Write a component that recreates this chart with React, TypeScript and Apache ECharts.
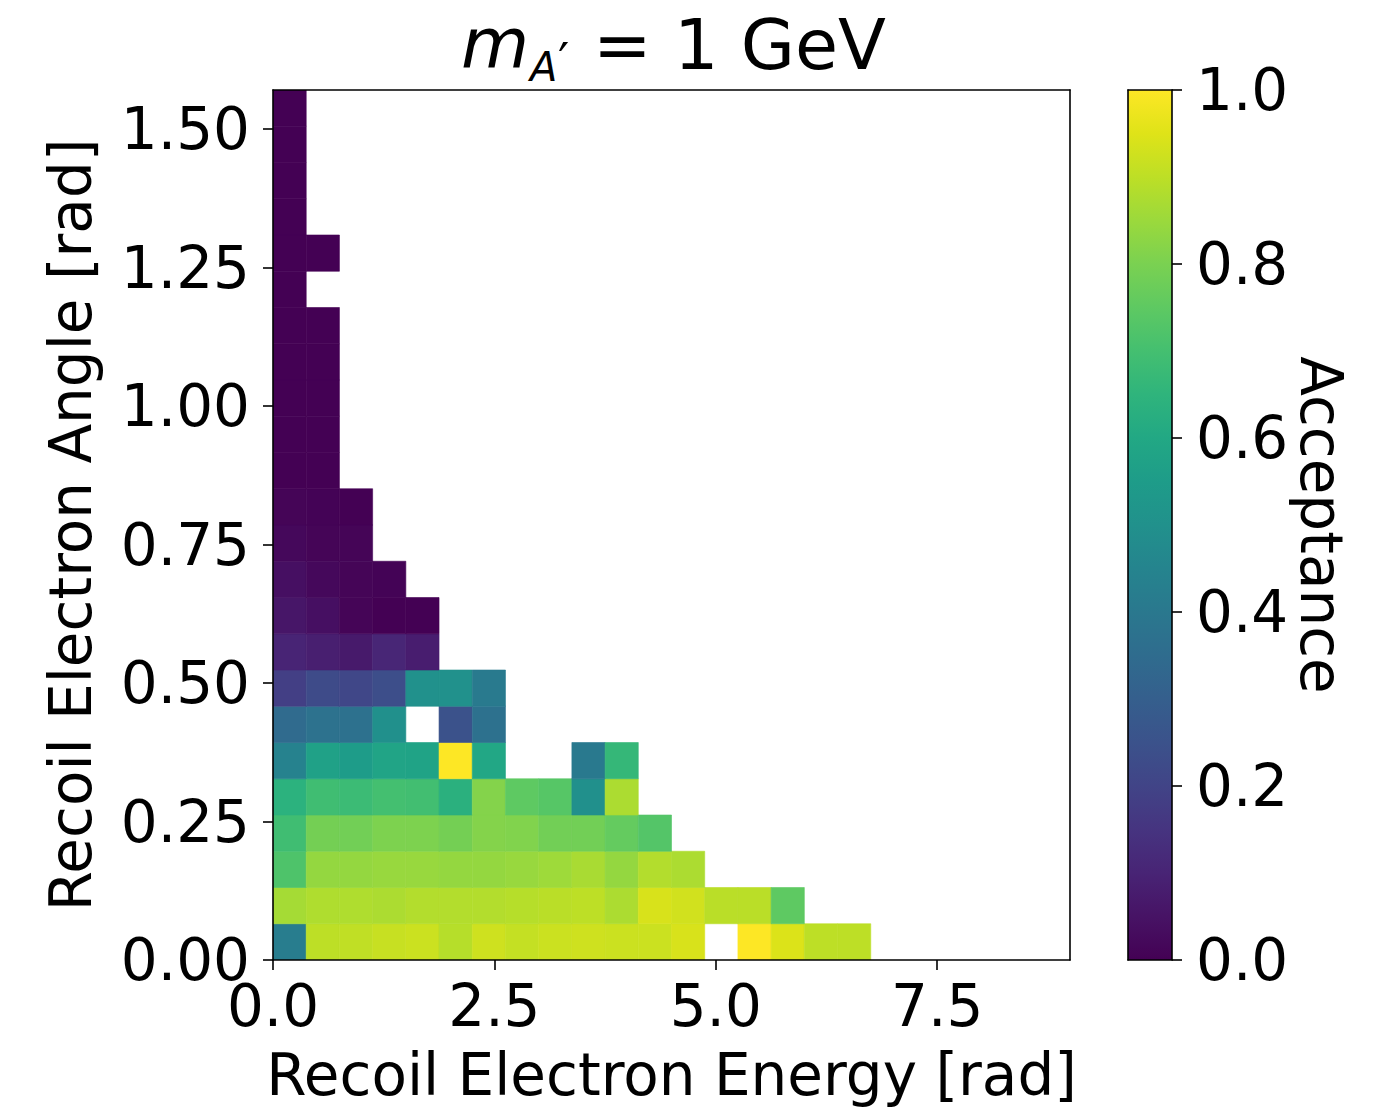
import React, { useEffect, useRef } from "react";
import * as echarts from "echarts";

// Binning (energy on x, angle on y)
const X_MIN = 0;
const X_MAX = 9;
const NX = 24;
const Y_MIN = 0;
const Y_MAX = Math.PI / 2;
const NY = 24;

const X_TICKS = [0, 2.5, 5, 7.5];
const Y_TICKS = [0, 0.25, 0.5, 0.75, 1.0, 1.25, 1.5];
const CB_TICKS = [0, 0.2, 0.4, 0.6, 0.8, 1.0];

const TITLE_M = "m";
const TITLE_SUB = "A";
const TITLE_PRIME = "\u2032";
const TITLE_REST = "= 1 GeV";
const X_NAME = "Recoil Electron Energy [rad]";
const Y_NAME = "Recoil Electron Angle [rad]";
const CB_NAME = "Acceptance";

// Acceptance per angle bin (bottom row first), one value per energy bin; null = empty bin
const ROW_00 = [0.42, 0.9, 0.905, 0.915, 0.92, 0.89, 0.925, 0.91, 0.92, 0.925, 0.92, 0.92, 0.94, null, 1.0, 0.945, 0.9, 0.9];
const ROW_01 = [0.865, 0.88, 0.88, 0.875, 0.885, 0.885, 0.885, 0.89, 0.895, 0.9, 0.875, 0.94, 0.93, 0.895, 0.895, 0.75];
const ROW_02 = [0.72, 0.84, 0.84, 0.845, 0.845, 0.84, 0.84, 0.845, 0.855, 0.87, 0.84, 0.885, 0.875];
const ROW_03 = [0.69, 0.79, 0.785, 0.805, 0.805, 0.79, 0.815, 0.81, 0.785, 0.785, 0.76, 0.73];
const ROW_04 = [0.64, 0.69, 0.68, 0.7, 0.695, 0.635, 0.815, 0.75, 0.735, 0.495, 0.875];
const ROW_05 = [0.44, 0.57, 0.55, 0.585, 0.58, 1.0, 0.595, null, null, 0.405, 0.665];
const ROW_06 = [0.345, 0.375, 0.37, 0.495, null, 0.25, 0.37];
const ROW_07 = [0.185, 0.225, 0.21, 0.235, 0.5, 0.5, 0.41];
const ROW_08 = [0.1, 0.085, 0.07, 0.105, 0.08];
const ROW_09 = [0.06, 0.04, 0.01, 0.0, 0.0];
const ROW_10 = [0.04, 0.02, 0.01, 0.005];
const ROW_11 = [0.02, 0.01, 0.01];
const ROW_12 = [0.01, 0.005, 0.0];
const ROW_13 = [0.0, 0.0];
const ROW_14 = [0.0, 0.0];
const ROW_15 = [0.0, 0.0];
const ROW_16 = [0.0, 0.0];
const ROW_17 = [0.0, 0.0];
const ROW_18 = [0.0, null];
const ROW_19 = [0.0, 0.0];
const ROW_20 = [0.0];
const ROW_21 = [0.0];
const ROW_22 = [0.0];
const ROW_23 = [0.0];

const ROWS = [
  ROW_00, ROW_01, ROW_02, ROW_03, ROW_04, ROW_05, ROW_06, ROW_07,
  ROW_08, ROW_09, ROW_10, ROW_11, ROW_12, ROW_13, ROW_14, ROW_15,
  ROW_16, ROW_17, ROW_18, ROW_19, ROW_20, ROW_21, ROW_22, ROW_23,
];

// viridis colormap stops (0 .. 1 in steps of 0.05)
const VIRIDIS = [
  "#440154", "#471365", "#482475", "#463480", "#414487", "#3b528b", "#355f8d",
  "#2f6c8e", "#2a788e", "#25848e", "#21918c", "#1e9c89", "#22a884", "#2fb47c",
  "#44bf70", "#5ec962", "#7ad151", "#9bd93c", "#bddf26", "#dfe318", "#fde725",
];

const FONT = "DejaVu Sans";
const FS = 58;

export default function App() {
  const ref = useRef<HTMLDivElement>(null);

  useEffect(() => {
    document.body.style.margin = "0";
    if (!ref.current) return;
    const chart = echarts.init(ref.current, undefined, { renderer: "svg" });

    const dx = (X_MAX - X_MIN) / NX;
    const dy = (Y_MAX - Y_MIN) / NY;
    const cells: number[][] = [];
    ROWS.forEach((row, j) =>
      row.forEach((v, i) => {
        if (v !== null && v !== undefined) {
          cells.push([X_MIN + (i + 0.5) * dx, Y_MIN + (j + 0.5) * dy, v]);
        }
      })
    );

    const black = "#000";
    const axisLineStyle = { color: black, width: 1.6 };
    const labelStyle = { color: black, fontFamily: FONT, fontSize: FS };

    const frameAxis = (extra: any) => ({
      type: "value",
      z: 10,
      axisLine: { show: true, onZero: false, lineStyle: axisLineStyle },
      axisTick: { show: false },
      axisLabel: { show: false },
      splitLine: { show: false },
      ...extra,
    });

    const gradientStops = VIRIDIS.map((c, k) => ({ offset: k / (VIRIDIS.length - 1), color: c }));

    const option: any = {
      animation: false,
      backgroundColor: "#fff",
      grid: [
        { left: 273, top: 90, width: 797, height: 870, containLabel: false, outerBoundsMode: "none" },
        { left: 1128, top: 90, width: 44, height: 870, containLabel: false, outerBoundsMode: "none" },
      ],
      xAxis: [
        {
          type: "value",
          gridIndex: 0,
          min: X_MIN,
          max: X_MAX,
          z: 10,
          position: "bottom",
          axisLine: { show: true, onZero: false, lineStyle: axisLineStyle },
          axisTick: { show: true, length: 10, lineStyle: axisLineStyle, customValues: X_TICKS },
          axisLabel: {
            ...labelStyle,
            margin: 17,
            customValues: X_TICKS,
            formatter: (v: number) => v.toFixed(1),
          },
          splitLine: { show: false },
          name: X_NAME,
          nameLocation: "middle",
          nameGap: 86,
          nameTextStyle: { ...labelStyle },
        },
        frameAxis({ gridIndex: 0, min: X_MIN, max: X_MAX, position: "top" }),
        frameAxis({ gridIndex: 1, min: 0, max: 1, position: "bottom" }),
        frameAxis({ gridIndex: 1, min: 0, max: 1, position: "top" }),
      ],
      yAxis: [
        {
          type: "value",
          gridIndex: 0,
          min: Y_MIN,
          max: Y_MAX,
          z: 10,
          position: "left",
          axisLine: { show: true, onZero: false, lineStyle: axisLineStyle },
          axisTick: { show: true, length: 10, lineStyle: axisLineStyle, customValues: Y_TICKS },
          axisLabel: {
            ...labelStyle,
            margin: 23,
            customValues: Y_TICKS,
            formatter: (v: number) => v.toFixed(2),
          },
          splitLine: { show: false },
          name: Y_NAME,
          nameLocation: "middle",
          nameRotate: 90,
          nameGap: 173,
          nameTextStyle: { ...labelStyle },
        },
        frameAxis({ gridIndex: 0, min: Y_MIN, max: Y_MAX, position: "right" }),
        {
          type: "value",
          gridIndex: 1,
          min: 0,
          max: 1,
          z: 10,
          position: "right",
          axisLine: { show: true, onZero: false, lineStyle: axisLineStyle },
          axisTick: { show: true, length: 10, lineStyle: axisLineStyle, customValues: CB_TICKS },
          axisLabel: {
            ...labelStyle,
            margin: 24,
            customValues: CB_TICKS,
            formatter: (v: number) => v.toFixed(1),
          },
          splitLine: { show: false },
          name: CB_NAME,
          nameLocation: "middle",
          nameRotate: -90,
          nameGap: 104,
          nameTextStyle: { ...labelStyle },
        },
        frameAxis({ gridIndex: 1, min: 0, max: 1, position: "left" }),
      ],
      visualMap: {
        type: "continuous",
        show: false,
        min: 0,
        max: 1,
        dimension: 2,
        seriesIndex: 0,
        inRange: { color: VIRIDIS },
      },
      series: [
        {
          type: "custom",
          xAxisIndex: 0,
          yAxisIndex: 0,
          clip: true,
          data: cells,
          encode: { x: 0, y: 1 },
          renderItem: (params: any, api: any) => {
            const xc = api.value(0);
            const yc = api.value(1);
            const p0 = api.coord([xc - dx / 2, yc - dy / 2]);
            const p1 = api.coord([xc + dx / 2, yc + dy / 2]);
            const color = api.visual("color");
            return {
              type: "rect",
              shape: { x: p0[0], y: p1[1], width: p1[0] - p0[0], height: p0[1] - p1[1] },
              style: { fill: color, stroke: color, lineWidth: 0.6 },
            };
          },
        },
        {
          type: "custom",
          xAxisIndex: 2,
          yAxisIndex: 2,
          clip: true,
          data: [[0.5, 0.5]],
          renderItem: (params: any, api: any) => {
            const p0 = api.coord([0, 0]);
            const p1 = api.coord([1, 1]);
            return {
              type: "rect",
              shape: { x: p0[0], y: p1[1], width: p1[0] - p0[0], height: p0[1] - p1[1] },
              style: { fill: new echarts.graphic.LinearGradient(0, 1, 0, 0, gradientStops) },
            };
          },
        },
      ],
      graphic: [
        {
          type: "text",
          left: 461,
          top: 9,
          style: { text: TITLE_M, fontFamily: FONT, fontStyle: "italic", fontSize: 70, fill: black },
        },
        {
          type: "text",
          left: 530,
          top: 47,
          style: { text: TITLE_SUB, fontFamily: FONT, fontStyle: "italic", fontSize: 40, fill: black },
        },
        {
          type: "text",
          left: 558,
          top: 36,
          style: { text: TITLE_PRIME, fontFamily: FONT, fontSize: 50, fill: black },
        },
        {
          type: "text",
          left: 593,
          top: 10,
          style: { text: TITLE_REST, fontFamily: FONT, fontSize: 70, fill: black },
        },
      ],
    };

    chart.setOption(option);
    return () => chart.dispose();
  }, []);

  return <div ref={ref} style={{ width: 1378, height: 1108 }} />;
}
